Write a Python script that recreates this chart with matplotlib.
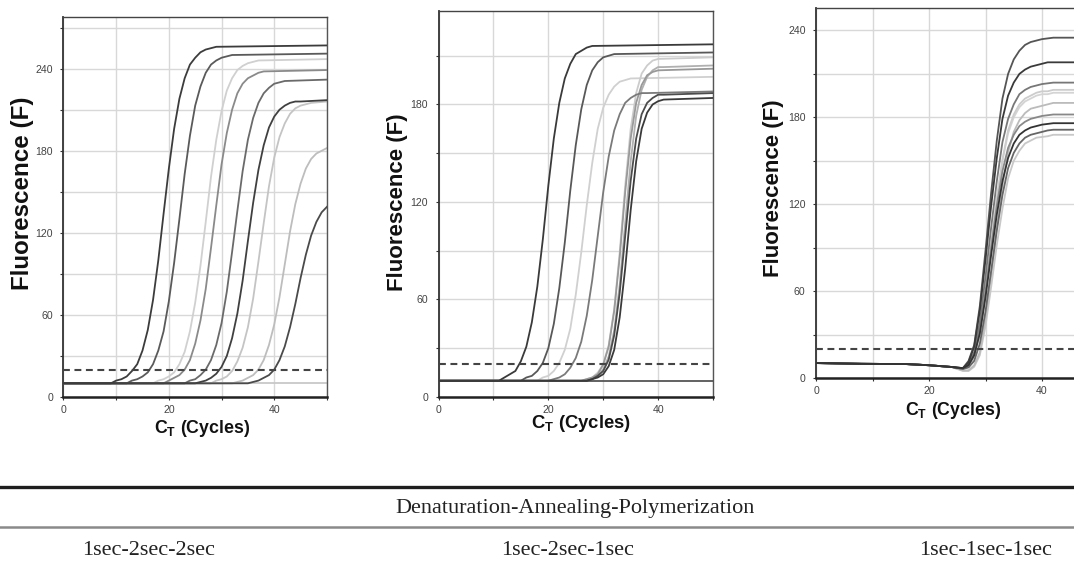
import matplotlib
matplotlib.use('Agg')
import matplotlib.pyplot as plt
from matplotlib import font_manager
from matplotlib.lines import Line2D

# amplification curves
# each curve: first cycle, fluorescence at every cycle from there, value at cycle 50
THRESHOLD = 20
P1_START = [9, 12, 17, 19, 23, 25, 28, 32, 35]
P1_VALUES = [
    [10, 12, 13, 15, 19, 24, 34, 49, 71, 100, 134, 167, 196, 218, 233, 243, 248, 252, 254, 255, 256],
    [10, 12, 13, 15, 18, 24, 34, 48, 70, 98, 130, 163, 191, 213, 227, 237, 243, 246, 248, 249, 250],
    [10, 12, 13, 15, 18, 24, 33, 48, 69, 96, 128, 161, 188, 209, 224, 233, 239, 242, 244, 245, 246],
    [10, 12, 14, 16, 20, 27, 39, 56, 79, 109, 140, 170, 193, 210, 222, 229, 233, 235, 237, 238],
    [10, 12, 13, 16, 20, 27, 38, 54, 77, 106, 136, 165, 188, 204, 215, 222, 226, 229, 230, 231],
    [10, 11, 12, 14, 17, 22, 30, 43, 61, 85, 114, 142, 166, 184, 197, 205, 210, 213, 215, 216, 216],
    [10, 12, 13, 15, 19, 26, 36, 51, 72, 99, 127, 154, 175, 190, 200, 207, 211, 213, 214, 215],
    [10, 11, 12, 14, 16, 20, 27, 38, 53, 73, 97, 121, 141, 156, 167, 174, 178, 180, 182],
    [10, 11, 12, 14, 16, 20, 27, 37, 51, 68, 87, 104, 118, 128, 135, 139],
]
P1_END = [257, 251, 247, 239, 232, 217, 216, 182, 139]
P1_COLORS = ['#3c3c3c', '#5a5a5a', '#d0d0d0', '#8a8a8a', '#6a6a6a', '#404040', '#c4c4c4', '#bdbdbd', '#4a4a4a']
P1_FLAT = [10, 10]
P1_FLAT_COLOR = '#c8c8c8'

P2_START = [11, 15, 18, 20, 26, 27, 26, 27, 27]
P2_VALUES = [
    [10, 12, 14, 16, 22, 31, 46, 68, 97, 130, 159, 181, 196, 205, 211, 213, 215, 216],
    [10, 12, 13, 16, 21, 30, 45, 67, 95, 127, 155, 177, 192, 201, 206, 209, 210, 211],
    [10, 12, 13, 16, 21, 29, 42, 63, 89, 118, 144, 165, 178, 186, 191, 194, 195, 196],
    [10, 11, 12, 14, 18, 24, 34, 50, 72, 99, 126, 148, 164, 174, 181, 184, 186, 187, 187],
    [10, 11, 12, 15, 20, 32, 54, 89, 130, 165, 187, 199, 204, 207, 208],
    [10, 11, 13, 17, 25, 41, 69, 107, 145, 173, 189, 197, 201, 203, 203],
    [10, 11, 12, 14, 20, 31, 53, 86, 126, 159, 181, 192, 198, 200, 201],
    [10, 11, 13, 16, 23, 38, 64, 99, 133, 159, 174, 181, 184, 186, 186],
    [10, 11, 12, 14, 19, 29, 49, 79, 115, 145, 165, 175, 180, 182, 183],
]
P2_END = [217, 212, 197, 188, 209, 204, 202, 187, 184]
P2_COLORS = ['#3a3a3a', '#585858', '#d0d0d0', '#7a7a7a', '#cccccc', '#b0b0b0', '#999999', '#4c4c4c', '#3a3a3a']
P2_FLAT = [10, 10]
P2_FLAT_COLOR = '#555555'

# third panel: shared drifting baseline, then every curve from cycle 26
P3_BASE_CYCLES = [0, 8, 16, 20, 24]
P3_BASE_VALUES = [10.5, 10.0, 9.8, 9.0, 7.8]
P3_START = [26] * 10
P3_VALUES = [
    [7, 12, 23, 50, 88, 128, 164, 193, 210, 220, 226, 230, 232, 233, 234, 234.5, 235],
    [7, 11, 22, 47, 82, 119, 152, 179, 195, 204, 210, 213, 215, 216, 217, 218, 218],
    [6.5, 10, 18, 39, 70, 104, 136, 163, 179, 189, 196, 199, 201, 202, 203, 203.5, 204],
    [6, 8, 15, 31, 59, 92, 124, 151, 171, 182, 189, 193, 195, 197, 198, 198, 199],
    [6, 8, 15, 31, 58, 91, 123, 150, 169, 180, 187, 191, 193, 195, 196, 196, 197],
    [5.5, 5.5, 9, 18, 41, 71, 104, 133, 156, 170, 178, 183, 186, 187, 188, 189, 190],
    [6.5, 9, 16, 34, 60, 90, 119, 143, 159, 168, 174, 177, 179, 180, 181, 181.5, 182],
    [7, 9, 16, 31, 56, 85, 113, 136, 152, 162, 168, 171, 173, 174, 175, 175.5, 176],
    [6.5, 7.5, 12, 24, 46, 74, 102, 126.5, 145, 155.5, 162, 166, 168, 169, 170, 171, 171.5],
    [5, 5, 8, 16, 36, 63, 92, 117, 138, 150, 157, 162, 164, 166, 166.5, 167, 168],
]
P3_END = [235, 218, 204, 199, 197, 190, 182, 176, 171.5, 168]
P3_COLORS = ['#555555', '#3a3a3a', '#777777', '#cccccc', '#d4d4d4', '#bbbbbb', '#888888', '#333333', '#666666', '#c8c8c8']

XLABEL = r'C$_{\mathrm{T}}$ (Cycles)'
YLABEL = 'Fluorescence (F)'
TABLE_HEAD = 'Denaturation-Annealing-Polymerization'
TABLE_ROW = ['1sec-2sec-2sec', '1sec-2sec-1sec', '1sec-1sec-1sec']

names = {f.name for f in font_manager.fontManager.ttflist}
if 'Liberation Sans' in names:
    label_font = 'Liberation Sans'
    ysizes, xsizes = [17.4, 16.0, 16.0], [12.8, 13.3, 12.8]
else:
    label_font = 'DejaVu Sans'
    ysizes, xsizes = [14.5, 13.4, 13.3], [11, 11.4, 11]
tick_font = 'Liberation Sans' if 'Liberation Sans' in names else 'DejaVu Sans'
serif_font = 'Liberation Serif' if 'Liberation Serif' in names else 'DejaVu Serif'

plt.rcParams['mathtext.fontset'] = 'custom'
plt.rcParams['mathtext.rm'] = label_font + ':bold'
plt.rcParams['mathtext.it'] = label_font + ':bold'
plt.rcParams['mathtext.default'] = 'rm'

fig = plt.figure(figsize=(10.74, 5.62), dpi=100)


def lightness(c):
    return int(c[1:3], 16)


def make_axes(rect, ymax):
    ax = fig.add_axes(rect)
    ax.set_xlim(0, 50)
    ax.set_ylim(0, ymax)
    ax.set_xticks(range(0, 51, 10))
    ax.set_xticklabels([str(v) if v % 20 == 0 and v < 50 else '' for v in range(0, 51, 10)])
    yt = list(range(0, int(ymax) + 1, 30))
    ax.set_yticks(yt)
    ax.set_yticklabels([str(v) if v % 60 == 0 else '' for v in yt])
    ax.grid(True, color='#d8d8d8', lw=1.0)
    ax.set_axisbelow(True)
    ax.spines['bottom'].set_linewidth(1.8)
    ax.spines['bottom'].set_color('#222222')
    ax.spines['left'].set_linewidth(1.3)
    ax.spines['left'].set_color('#333333')
    ax.spines['top'].set_linewidth(1.0)
    ax.spines['top'].set_color('#444444')
    ax.spines['right'].set_linewidth(1.0)
    ax.spines['right'].set_color('#555555')
    ax.tick_params(direction='out', length=2.5, width=0.8, color='#333333',
                   labelsize=7.6, labelcolor='#444444')
    ax.tick_params(axis='y', pad=5)
    ax.tick_params(axis='x', pad=3)
    for lab in ax.get_xticklabels() + ax.get_yticklabels():
        lab.set_fontfamily(tick_font)
    return ax


def draw_curves(ax, pre_x, pre_y, starts, values, ends, colors):
    order = sorted(range(len(values)), key=lambda i: -lightness(colors[i]))
    for i in order:
        xs = list(pre_x) + list(range(starts[i], starts[i] + len(values[i])))
        ys = list(pre_y) + list(values[i])
        if xs[-1] < 50:
            xs.append(50)
            ys.append(ends[i])
        z = 2 if lightness(colors[i]) > 0x90 else 3
        ax.plot(xs, ys, color=colors[i], lw=1.3, zorder=z, solid_joinstyle='round')
    ax.axhline(THRESHOLD, color='#444444', lw=1.5, ls=(0, (3.3, 2.2)), zorder=4)


rects = [[0.0591, 0.2936, 0.2453, 0.6762],
         [0.4083, 0.2936, 0.2556, 0.6868],
         [0.7598, 0.3269, 0.2630, 0.6584]]
ymaxes = [277.8, 237.5, 255.3]

ax1 = make_axes(rects[0], ymaxes[0])
ax1.plot([0, 50], P1_FLAT, color=P1_FLAT_COLOR, lw=1.3, zorder=2)
draw_curves(ax1, [0], [10], P1_START, P1_VALUES, P1_END, P1_COLORS)

ax2 = make_axes(rects[1], ymaxes[1])
ax2.plot([0, 50], P2_FLAT, color=P2_FLAT_COLOR, lw=1.3, zorder=3)
draw_curves(ax2, [0], [10], P2_START, P2_VALUES, P2_END, P2_COLORS)

ax3 = make_axes(rects[2], ymaxes[2])
draw_curves(ax3, P3_BASE_CYCLES, P3_BASE_VALUES, P3_START, P3_VALUES, P3_END, P3_COLORS)

# axis titles placed where the reference has them
ylab_pos = [(0.0205, 0.6557), (0.3705, 0.6411), (0.7200, 0.6646)]
xlab_pos = [(0.1878, 0.2384), (0.5414, 0.2473), (0.8878, 0.2687)]
for k in range(3):
    fig.text(ylab_pos[k][0], ylab_pos[k][1], YLABEL, rotation=90, ha='center', va='center',
             fontsize=ysizes[k], fontweight='bold', family=label_font, color='#111111')
    fig.text(xlab_pos[k][0], xlab_pos[k][1], XLABEL, ha='center', va='center',
             fontsize=xsizes[k], fontweight='bold', family=label_font, color='#111111')

# table under the charts
fig.add_artist(Line2D([0, 1], [0.1335, 0.1335], transform=fig.transFigure, color='#1e1e1e', lw=2.4))
fig.add_artist(Line2D([0, 1], [0.0623, 0.0623], transform=fig.transFigure, color='#8a8a8a', lw=1.8))
fig.text(0.5354, 0.0872, TABLE_HEAD, ha='center', va='baseline', fontsize=16,
         family=serif_font, color='#222222')
row_x = [0.1387, 0.5289, 0.918]
for k in range(3):
    fig.text(row_x[k], 0.01246, TABLE_ROW[k], ha='center', va='baseline', fontsize=16,
             family=serif_font, color='#222222')

fig.savefig('out.png', dpi=100)
